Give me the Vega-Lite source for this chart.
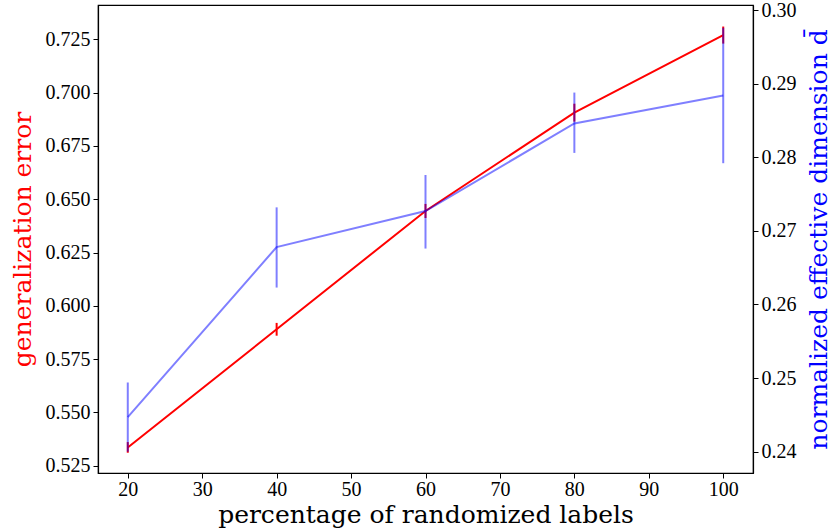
{
  "$schema": "https://vega.github.io/schema/vega-lite/v6.json",
  "width": 655,
  "height": 468,
  "autosize": {"type": "none"},
  "padding": {"left": 98, "top": 5, "right": 78, "bottom": 56},
  "background": "white",
  "config": {
    "view": {"stroke": "black", "strokeWidth": 1.2},
    "font": "Liberation Serif",
    "axis": {
      "grid": false,
      "domainColor": "black",
      "domainWidth": 1.2,
      "tickColor": "black",
      "tickSize": 5,
      "tickWidth": 1,
      "labelFont": "Liberation Serif",
      "labelFontSize": 20,
      "labelColor": "black",
      "labelPadding": 3,
      "titleFont": "DejaVu Serif",
      "titleFontSize": 25,
      "titleFontWeight": "normal"
    }
  },
  "data": {
    "values": [
      {"pct": 20, "err": 0.5336, "err_lo": 0.5311, "err_hi": 0.5361, "dim": 0.2447, "dim_lo": 0.2400, "dim_hi": 0.2494},
      {"pct": 40, "err": 0.5890, "err_lo": 0.5860, "err_hi": 0.5920, "dim": 0.2678, "dim_lo": 0.2623, "dim_hi": 0.2732},
      {"pct": 60, "err": 0.6445, "err_lo": 0.6412, "err_hi": 0.6478, "dim": 0.2727, "dim_lo": 0.2676, "dim_hi": 0.2776},
      {"pct": 80, "err": 0.6906, "err_lo": 0.6864, "err_hi": 0.6948, "dim": 0.2846, "dim_lo": 0.2806, "dim_hi": 0.2888},
      {"pct": 100, "err": 0.7270, "err_lo": 0.7230, "err_hi": 0.7310, "dim": 0.2884, "dim_lo": 0.2792, "dim_hi": 0.2976}
    ]
  },
  "encoding": {
    "x": {
      "field": "pct",
      "type": "quantitative",
      "scale": {"domain": [16, 104], "nice": false, "zero": false},
      "axis": {"values": [20, 30, 40, 50, 60, 70, 80, 90, 100], "labelPadding": 1, "title": "percentage of randomized labels", "titleBaseline": "alphabetic", "titleY": 49}
    }
  },
  "layer": [
    {
      "encoding": {
        "y": {
          "type": "quantitative",
          "scale": {"domain": [0.5216, 0.7411], "nice": false, "zero": false}
        }
      },
      "layer": [
        {
          "mark": {"type": "line", "color": "#ff0000", "strokeWidth": 2},
          "encoding": {
            "y": {
              "field": "err",
              "type": "quantitative",
              "axis": {
                "orient": "left",
                "values": [0.525, 0.55, 0.575, 0.6, 0.625, 0.65, 0.675, 0.7, 0.725],
                "format": ".3f",
                "title": "generalization error",
                "titleColor": "#ff0000",
                "titleAngle": -90,
                "titleBaseline": "alphabetic",
                "titleX": -68
              }
            }
          }
        },
        {
          "mark": {"type": "rule", "color": "#ff0000", "strokeWidth": 2},
          "encoding": {
            "y": {"field": "err_lo", "type": "quantitative"},
            "y2": {"field": "err_hi"}
          }
        }
      ]
    },
    {
      "encoding": {
        "y": {
          "type": "quantitative",
          "scale": {"domain": [0.2371, 0.3007], "nice": false, "zero": false}
        }
      },
      "layer": [
        {
          "mark": {"type": "line", "color": "#0000ff", "opacity": 0.5, "strokeWidth": 2},
          "encoding": {
            "y": {
              "field": "dim",
              "type": "quantitative",
              "axis": {
                "orient": "right",
                "values": [0.24, 0.25, 0.26, 0.27, 0.28, 0.29, 0.30],
                "format": ".2f",
                "title": "normalized effective dimension d\u0304",
                "titleColor": "#0000ff",
                "titleAngle": -90,
                "titleBaseline": "alphabetic",
                "titleX": 73
              }
            }
          }
        },
        {
          "mark": {"type": "rule", "color": "#0000ff", "opacity": 0.5, "strokeWidth": 2},
          "encoding": {
            "y": {"field": "dim_lo", "type": "quantitative"},
            "y2": {"field": "dim_hi"}
          }
        }
      ]
    }
  ],
  "resolve": {"scale": {"y": "independent"}, "axis": {"y": "independent"}}
}
